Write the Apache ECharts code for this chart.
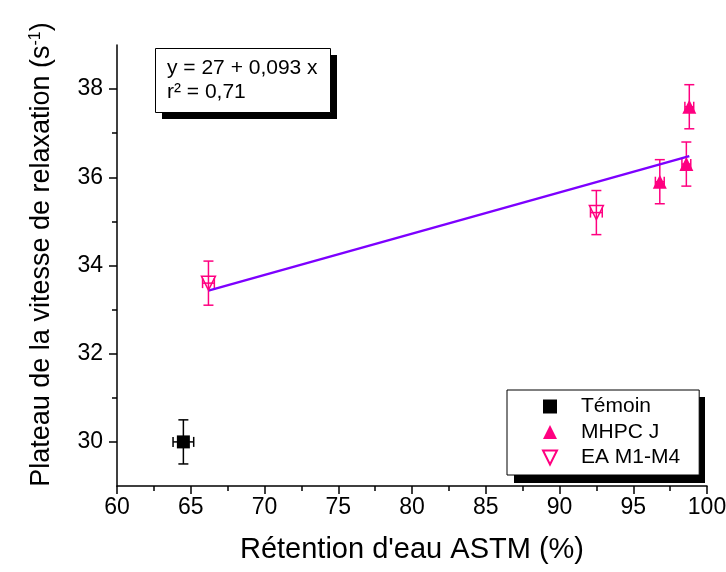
<!DOCTYPE html>
<html><head><meta charset="utf-8">
<script src="https://cdn.jsdelivr.net/npm/echarts@6/dist/echarts.min.js"></script>
<style>html,body{margin:0;padding:0;background:#fff}</style>
</head><body>
<div id="c" style="width:726px;height:572px"></div>
<script>
// ---- data ----
const temoinX = [64.5];
const temoinY = [30.0];
const temoinXErr = [0.7];
const temoinYErr = [0.5];

const mhpcX = [96.8, 98.6, 98.8];
const mhpcY = [35.9, 36.3, 37.6];
const mhpcXErr = [0.3, 0.3, 0.3];
const mhpcYErr = [0.5, 0.5, 0.5];

const eaX = [66.2, 92.5];
const eaY = [33.6, 35.2];
const eaXErr = [0.4, 0.4];
const eaYErr = [0.5, 0.5];

const fitX = [66.2, 98.8];
const fitY = [33.43, 36.48];

const yLabelValues = [30, 32, 34, 36, 38];
const yMinorValues = [31, 33, 35, 37];
const legendNames = ['Témoin', 'MHPC J', 'EA M1-M4'];
const equationLines = ['y = 27 + 0,093 x', 'r² = 0,71'];

// ---- chart ----
const FONT = "'Liberation Sans', Arial, sans-serif";
const PINK = '#ff0080';

function errSeries(xs, ys, xe, ye, color, w) {
  return {
    type: 'custom', silent: true, z: 2,
    data: xs.map((x, i) => [x, ys[i], xe[i], ye[i]]),
    encode: { x: 0, y: 1 },
    renderItem: function (p, api) {
      const x = api.value(0), y = api.value(1), dx = api.value(2), dy = api.value(3);
      const t = api.coord([x, y + dy]), b = api.coord([x, y - dy]);
      const l = api.coord([x - dx, y]), r = api.coord([x + dx, y]);
      const cap = 5;
      const st = { stroke: color, lineWidth: w, fill: null };
      const ln = (x1, y1, x2, y2) => ({ type: 'line', shape: { x1, y1, x2, y2 }, style: st });
      return {
        type: 'group', children: [
          ln(t[0], t[1], b[0], b[1]),
          ln(t[0] - cap, t[1], t[0] + cap, t[1]),
          ln(b[0] - cap, b[1], b[0] + cap, b[1]),
          ln(l[0], l[1], r[0], r[1]),
          ln(l[0], l[1] - cap, l[0], l[1] + cap),
          ln(r[0], r[1] - cap, r[0], r[1] + cap)
        ]
      };
    }
  };
}

const chart = echarts.init(document.getElementById('c'), null, { renderer: 'canvas' });
chart.setOption({
  animation: false,
  backgroundColor: '#fff',
  textStyle: { fontFamily: FONT, color: '#000' },
  graphic: [
    { type: 'rect', z: 1, silent: true, shape: { x: 162, y: 55, width: 175, height: 64 }, style: { fill: '#000' } },
    { type: 'rect', z: 1, silent: true, shape: { x: 155.5, y: 48.5, width: 175, height: 64 }, style: { fill: '#fff', stroke: '#000', lineWidth: 1 } },
    { type: 'rect', z: 1, silent: true, shape: { x: 514, y: 397, width: 191, height: 86 }, style: { fill: '#000' } }
  ],
  title: {
    text: equationLines.join('\n'),
    left: 155, top: 48, z: 10,
    padding: [8, 12, 8, 12],
    textStyle: { fontFamily: FONT, fontSize: 21, fontWeight: 'normal', color: '#000', lineHeight: 24 }
  },
  legend: {
    data: legendNames,
    orient: 'vertical',
    left: 507, top: 390, z: 10,
    padding: [6, 19, 7, 35],
    itemWidth: 14, itemHeight: 14, itemGap: 4.5,
    backgroundColor: '#fff',
    borderColor: '#000', borderWidth: 1,
    textStyle: { fontFamily: FONT, fontSize: 21, color: '#000', lineHeight: 21, padding: [0, 0, 0, 19] }
  },
  grid: { left: 117, right: 19, top: 45, bottom: 86, containLabel: false, outerBoundsMode: 'none' },
  xAxis: {
    type: 'value', min: 60, max: 100, interval: 5,
    name: "Rétention d'eau ASTM (%)",
    nameLocation: 'middle', nameGap: 49,
    nameTextStyle: { fontFamily: FONT, fontSize: 29, color: '#000' },
    axisLine: { show: true, onZero: false, lineStyle: { color: '#000', width: 1.5 } },
    axisTick: { show: true, inside: false, length: 8, lineStyle: { color: '#000', width: 1.5 } },
    minorTick: { show: true, splitNumber: 2, length: 5, lineStyle: { color: '#000', width: 1.5 } },
    axisLabel: { fontFamily: FONT, fontSize: 23, color: '#000', margin: 10, showMinLabel: true, showMaxLabel: true, hideOverlap: false },
    splitLine: { show: false }, minorSplitLine: { show: false }
  },
  yAxis: [{
    type: 'value', min: 29, max: 39,
    name: 'Plateau de la vitesse de relaxation (s{sup|-1})',
    nameLocation: 'middle', nameGap: 62,
    nameTextStyle: {
      fontFamily: FONT, fontSize: 27, color: '#000', padding: [0, 0, 0, 22],
      rich: { sup: { fontFamily: FONT, fontSize: 16, color: '#000', verticalAlign: 'top' } }
    },
    axisLine: { show: true, onZero: false, lineStyle: { color: '#000', width: 1.5 } },
    axisTick: { show: true, inside: false, length: 8, customValues: yLabelValues, lineStyle: { color: '#000', width: 1.5 } },
    axisLabel: { fontFamily: FONT, fontSize: 23, color: '#000', margin: 14, customValues: yLabelValues },
    splitLine: { show: false }
  }, {
    type: 'value', min: 29, max: 39, position: 'left',
    axisLine: { show: false },
    axisTick: { show: true, inside: false, length: 5, customValues: yMinorValues, lineStyle: { color: '#000', width: 1.5 } },
    axisLabel: { show: false },
    splitLine: { show: false }
  }],
  series: [
    errSeries(temoinX, temoinY, temoinXErr, temoinYErr, '#000', 1.5),
    errSeries(mhpcX, mhpcY, mhpcXErr, mhpcYErr, PINK, 1.5),
    errSeries(eaX, eaY, eaXErr, eaYErr, PINK, 1.5),
    {
      type: 'line', name: 'fit', z: 3, silent: true,
      data: fitX.map((x, i) => [x, fitY[i]]),
      symbol: 'none', lineStyle: { color: '#7d00ff', width: 2.5, opacity: 1 }
    },
    {
      type: 'scatter', name: 'Témoin', z: 4, symbol: 'rect', symbolSize: 13,
      data: temoinX.map((x, i) => [x, temoinY[i]]),
      itemStyle: { color: '#000', opacity: 1 }
    },
    {
      type: 'scatter', name: 'MHPC J', z: 4, symbol: 'triangle', symbolSize: 14,
      data: mhpcX.map((x, i) => [x, mhpcY[i]]),
      itemStyle: { color: PINK, opacity: 1 }
    },
    {
      type: 'scatter', name: 'EA M1-M4', z: 4, symbol: 'path://M0,0L10,0L5,10Z', symbolSize: 14,
      data: eaX.map((x, i) => [x, eaY[i]]),
      itemStyle: { color: 'rgba(255,255,255,0)', borderColor: PINK, borderWidth: 1.5, opacity: 1 }
    }
  ]
});
</script>
</body></html>
